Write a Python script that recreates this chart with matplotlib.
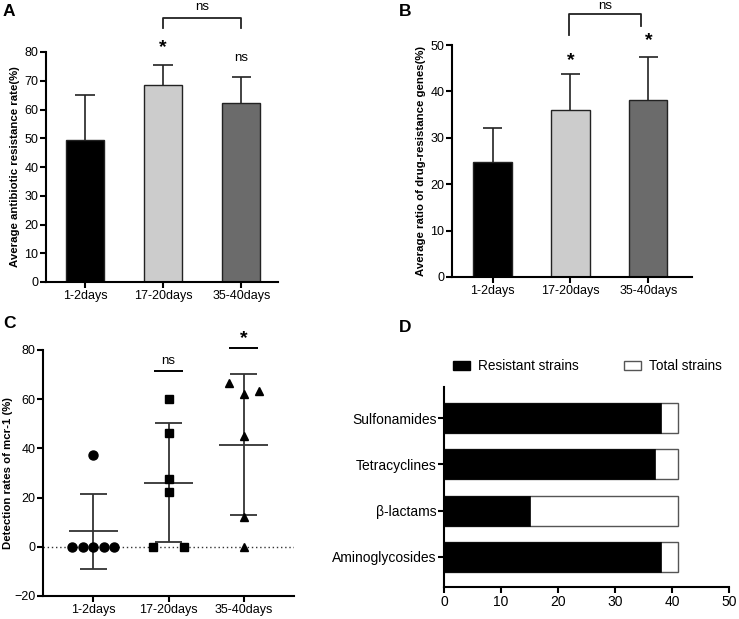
import numpy as np
import matplotlib
matplotlib.use('Agg')
import matplotlib.pyplot as plt
from matplotlib.patches import Patch

plt.rcParams['font.family'] = ['Liberation Sans', 'DejaVu Sans']

# data
groups = ['1-2days', '17-20days', '35-40days']
resist_rate_mean = [49.3, 68.5, 62.2]
resist_rate_sd = [15.9, 7.0, 9.2]
gene_ratio_mean = [24.7, 36.0, 38.2]
gene_ratio_sd = [7.5, 7.8, 9.3]

mcr1_day1 = [0, 0, 0, 0, 0, 37.5]
mcr1_day17 = [0, 0, 22.4, 27.5, 46.2, 60.0]
mcr1_day35 = [0, 12.2, 45.1, 62.3, 63.4, 66.5]

drug_classes = ['Aminoglycosides', 'β-lactams', 'Tetracyclines', 'Sulfonamides']
resistant_strains = [38, 15, 37, 38]
total_strains = [41, 41, 41, 41]

bar_colors = ['#000000', '#cccccc', '#6b6b6b']
W, H = 739, 619


def px_axes(fig, left, top, right, bottom):
    return fig.add_axes([left / W, 1 - bottom / H, (right - left) / W, (bottom - top) / H])


def style(ax, fs=9):
    for s in ['top', 'right']:
        ax.spines[s].set_visible(False)
    for s in ['left', 'bottom']:
        ax.spines[s].set_linewidth(1.5)
    ax.tick_params(width=1.5, length=4, labelsize=fs, colors='black', pad=1.5)


def bar_panel(ax, means, sds, ylabel):
    x = np.arange(len(groups))
    ax.bar(x, means, width=0.49, color=bar_colors, edgecolor='#222222', linewidth=1, zorder=2)
    # upper error bars only, drawn behind the bars
    tops = np.array(means) + np.array(sds)
    ax.vlines(x, means, tops, color='#222222', lw=1.2, zorder=1)
    ax.hlines(tops, x - 0.125, x + 0.125, color='#222222', lw=1.2, zorder=1)
    ax.set_xticks(x)
    ax.set_xticklabels(groups)
    ax.set_ylabel(ylabel, fontsize=8.2, fontweight='bold', labelpad=3)
    style(ax)


fig = plt.figure(figsize=(W / 100, H / 100), dpi=100)

# ---- A ----
axA = px_axes(fig, 46, 52, 278, 282)
bar_panel(axA, resist_rate_mean, resist_rate_sd, 'Average antibiotic resistance rate(%)')
axA.set_ylim(0, 80)
axA.set_xlim(-0.5, 2.47)
axA.set_yticks(range(0, 81, 10))
axA.plot([1, 1, 2, 2], [88.3, 91.8, 91.8, 88.3], color='#222222', lw=1.3, clip_on=False)
axA.text(1.5, 95.6, 'ns', ha='center', va='center', fontsize=9.5)
axA.text(1, 81.5, '*', ha='center', va='center', fontsize=14, fontweight='bold')
axA.text(2, 78, 'ns', ha='center', va='center', fontsize=9.5)

# ---- B ----
axB = px_axes(fig, 452, 45, 692, 277)
bar_panel(axB, gene_ratio_mean, gene_ratio_sd, 'Average ratio of drug-resistance genes(%)')
axB.set_ylim(0, 50)
axB.set_xlim(-0.52, 2.56)
axB.set_yticks(range(0, 51, 10))
axB.plot([0.98, 0.98, 1.9, 1.9], [52.2, 56.7, 56.7, 54.1], color='#222222', lw=1.3, clip_on=False)
axB.text(1.44, 58.4, 'ns', ha='center', va='center', fontsize=9.5)
axB.text(1, 46.6, '*', ha='center', va='center', fontsize=14, fontweight='bold')
axB.text(2, 50.9, '*', ha='center', va='center', fontsize=14, fontweight='bold')

# ---- C ----
axC = px_axes(fig, 43, 350, 294, 596)
mcr1 = [mcr1_day1, mcr1_day17, mcr1_day35]
jitter = [[-0.28, -0.14, 0.14, 0.28, 0, 0],
          [-0.21, 0.21, 0, 0, 0, 0],
          [0, 0, 0, 0, 0.2, -0.2]]
markers = ['o', 's', '^']
msizes = [6.5, 6, 6]
axC.axhline(0, color='#333333', lw=1, ls=(0, (1, 2)), zorder=1)
for i, vals in enumerate(mcr1):
    vals = np.array(vals)
    m, sd = vals.mean(), vals.std(ddof=1)
    axC.plot(i + np.array(jitter[i]), vals, ls='none', marker=markers[i], ms=msizes[i],
             color='black', zorder=3, clip_on=False)
    axC.vlines(i, m - sd, m + sd, color='#333333', lw=1.3, zorder=2)
    axC.hlines([m - sd, m + sd], i - 0.18, i + 0.18, color='#333333', lw=1.3, zorder=2)
    axC.hlines(m, i - 0.33, i + 0.33, color='#333333', lw=1.3, zorder=2)
axC.hlines(71.3, 1 - 0.19, 1 + 0.19, color='black', lw=1.4, clip_on=False)
axC.text(1, 73, 'ns', ha='center', va='bottom', fontsize=9.5)
axC.hlines(81, 2 - 0.19, 2 + 0.19, color='black', lw=1.4, clip_on=False)
axC.text(2, 84.5, '*', ha='center', va='center', fontsize=14, fontweight='bold')
axC.set_xlim(-0.67, 2.67)
axC.set_ylim(-20, 80)
axC.set_yticks(range(-20, 81, 20))
axC.set_xticks(range(3))
axC.set_xticklabels(groups)
axC.set_ylabel('Detection rates of mcr-1 (%)', fontsize=8.2, fontweight='bold', labelpad=1)
style(axC)

# ---- D ----
axD = px_axes(fig, 444, 387, 729, 587)
y = np.arange(len(drug_classes))
axD.barh(y, total_strains, height=0.65, color='white', edgecolor='#555555', linewidth=1, zorder=2)
axD.barh(y, resistant_strains, height=0.65, color='black', edgecolor='black', linewidth=0.5, zorder=3)
axD.set_yticks(y)
axD.set_yticklabels(drug_classes)
axD.set_xlim(0, 50)
axD.set_ylim(-0.65, 3.67)
axD.set_xticks(range(0, 51, 10))
style(axD, fs=10)
handles = [Patch(facecolor='black', edgecolor='black', label='Resistant strains'),
           Patch(facecolor='white', edgecolor='#555555', label='Total strains')]
fig.legend(handles=handles, loc='center left', bbox_to_anchor=(453 / W, 1 - 366 / H),
           ncol=2, frameon=False, fontsize=9.8, handlelength=1.25, handleheight=0.6,
           handletextpad=0.6, columnspacing=3.3, borderpad=0, borderaxespad=0)

# panel letters
for lbl, (px, py) in zip('ABCD', [(9, 12), (405, 12), (9, 324), (405, 327)]):
    fig.text(px / W, 1 - py / H, lbl, fontsize=12.5, fontweight='bold', ha='center', va='center')

fig.savefig('out.png', dpi=100)
